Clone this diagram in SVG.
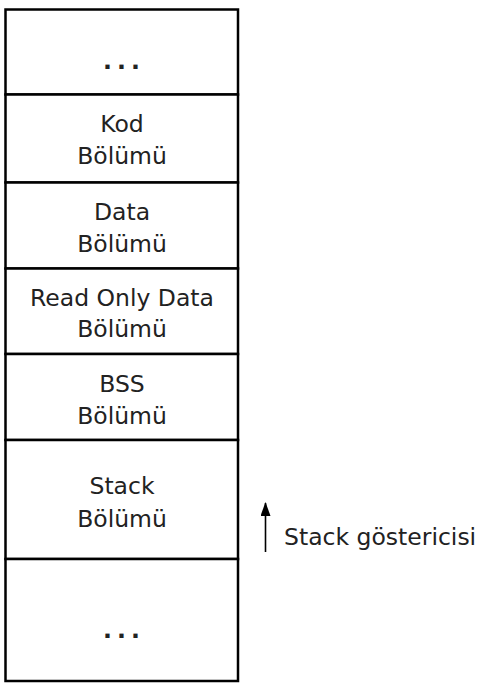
<svg xmlns="http://www.w3.org/2000/svg" width="478" height="684" viewBox="0 0 478 684">
  <style>
    .seg { fill: #ffffff; stroke: #000000; stroke-width: 2.5; }
    .lbl { font-family: "DejaVu Sans", Verdana, sans-serif; font-size: 23.5px; fill: #222222; text-anchor: middle; }
    .dots { font-family: "DejaVu Sans", Verdana, sans-serif; font-size: 23.5px; font-weight: bold; fill: #222222; text-anchor: middle; letter-spacing: 5px; }
    .note { font-family: "DejaVu Sans", Verdana, sans-serif; font-size: 23.5px; fill: #222222; }
    .ptr { stroke: #000000; stroke-width: 1.6; fill: none; }
  </style>
  <defs>
    <marker id="head" viewBox="0 0 14 10" refX="13" refY="5" markerWidth="14" markerHeight="10" markerUnits="userSpaceOnUse" orient="auto">
      <path d="M0,0 L14,5 L0,10 Z" fill="#000000"/>
    </marker>
  </defs>

  <rect x="0" y="0" width="478" height="684" fill="#ffffff"/>

  <!-- memory layout column -->
  <g id="top-rest">
    <rect class="seg" x="5.5" y="9.5" width="232.5" height="85"/>
    <text class="dots" x="124" y="69">...</text>
  </g>
  <g id="kod">
    <rect class="seg" x="5.5" y="94.5" width="232.5" height="88"/>
    <text class="lbl" x="122" y="132">Kod</text>
    <text class="lbl" x="122" y="164">Bölümü</text>
  </g>
  <g id="data">
    <rect class="seg" x="5.5" y="182.5" width="232.5" height="86"/>
    <text class="lbl" x="122" y="220">Data</text>
    <text class="lbl" x="122" y="252">Bölümü</text>
  </g>
  <g id="rodata">
    <rect class="seg" x="5.5" y="268.5" width="232.5" height="85.5"/>
    <text class="lbl" x="122" y="306">Read Only Data</text>
    <text class="lbl" x="122" y="337">Bölümü</text>
  </g>
  <g id="bss">
    <rect class="seg" x="5.5" y="354" width="232.5" height="86"/>
    <text class="lbl" x="122" y="392">BSS</text>
    <text class="lbl" x="122" y="424">Bölümü</text>
  </g>
  <g id="stack">
    <rect class="seg" x="5.5" y="440" width="232.5" height="119"/>
    <text class="lbl" x="122" y="494">Stack</text>
    <text class="lbl" x="122" y="527">Bölümü</text>
  </g>
  <g id="bottom-rest">
    <rect class="seg" x="5.5" y="559" width="232.5" height="122"/>
    <text class="dots" x="124" y="638">...</text>
  </g>

  <!-- stack pointer -->
  <g id="connectors">
    <line class="ptr" x1="265.5" y1="552" x2="265.5" y2="503" marker-end="url(#head)"/>
  </g>
  <g id="stack-pointer-label">
    <text class="note" x="284" y="545">Stack göstericisi</text>
  </g>
</svg>
